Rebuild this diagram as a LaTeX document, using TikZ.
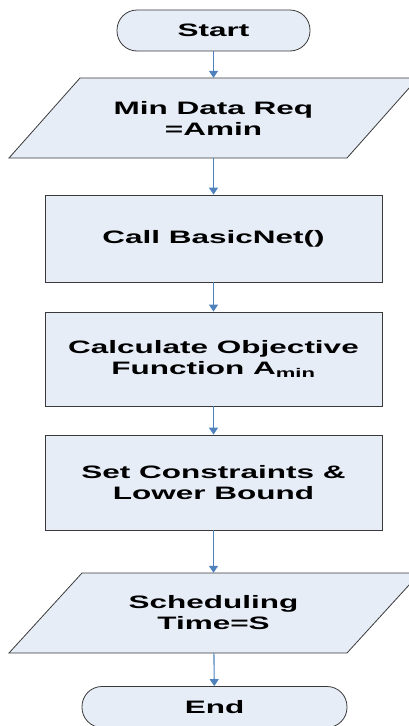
\documentclass[tikz,border=0pt]{standalone}
\usepackage{fontspec}
\setmainfont{Liberation Sans}[FakeStretch=1.75]
\usetikzlibrary{arrows.meta}
\definecolor{fillc}{HTML}{E7EDF7}
\definecolor{linec}{HTML}{4F81BD}
\definecolor{borderc}{HTML}{3A3A3A}
\begin{document}
\begin{tikzpicture}[x=1pt,y=-1pt,
  lbl/.style={align=center, font=\bfseries\fontsize{18}{21}\selectfont, inner sep=0pt},
  box/.style={lbl, draw=borderc, fill=fillc, line width=0.8pt, minimum width=337pt},
  term/.style={lbl, draw=borderc, fill=fillc, line width=0.8pt, rounded corners=20pt, minimum height=41pt},
  para/.style={draw=borderc, fill=fillc, line width=0.8pt},
  arr/.style={draw=linec, line width=1.1pt, -{Triangle[width=9pt,length=7pt]}}
]
\useasboundingbox (0,0) rectangle (409,726);
% shapes
\node[term, minimum width=193pt] (start) at (213.5,30.5) {Start};
\path[para] (80,78) -- (418,78) -- (347,158) -- (9,158) -- cycle;
\node[lbl, minimum width=200pt, minimum height=80pt] (p1) at (213.5,118) {Min Data Req\\=Amin};
\node[box, minimum height=87pt] (r1) at (213.5,238.5) {Call BasicNet()};
\node[box, minimum height=94pt] (r2) at (213.5,359) {Calculate Objective\\Function A\textsubscript{min}};
\node[box, minimum height=95pt] (r3) at (213.5,482.5) {Set Constraints \&\\Lower Bound};
\path[para] (82,573) -- (420,573) -- (347,653) -- (9,653) -- cycle;
\node[lbl, minimum width=200pt, minimum height=80pt] (p2) at (213.5,613) {Scheduling\\Time=S};
\node[term, minimum width=265pt] (end) at (214.5,707) {End};
% connectors
\draw[arr] (start) -- (p1);
\draw[arr] (p1) -- (r1);
\draw[arr] (r1) -- (r2);
\draw[arr] (r2) -- (r3);
\draw[arr] (r3) -- (p2);
\draw[arr] (p2) -- (end);
\end{tikzpicture}
\end{document}
